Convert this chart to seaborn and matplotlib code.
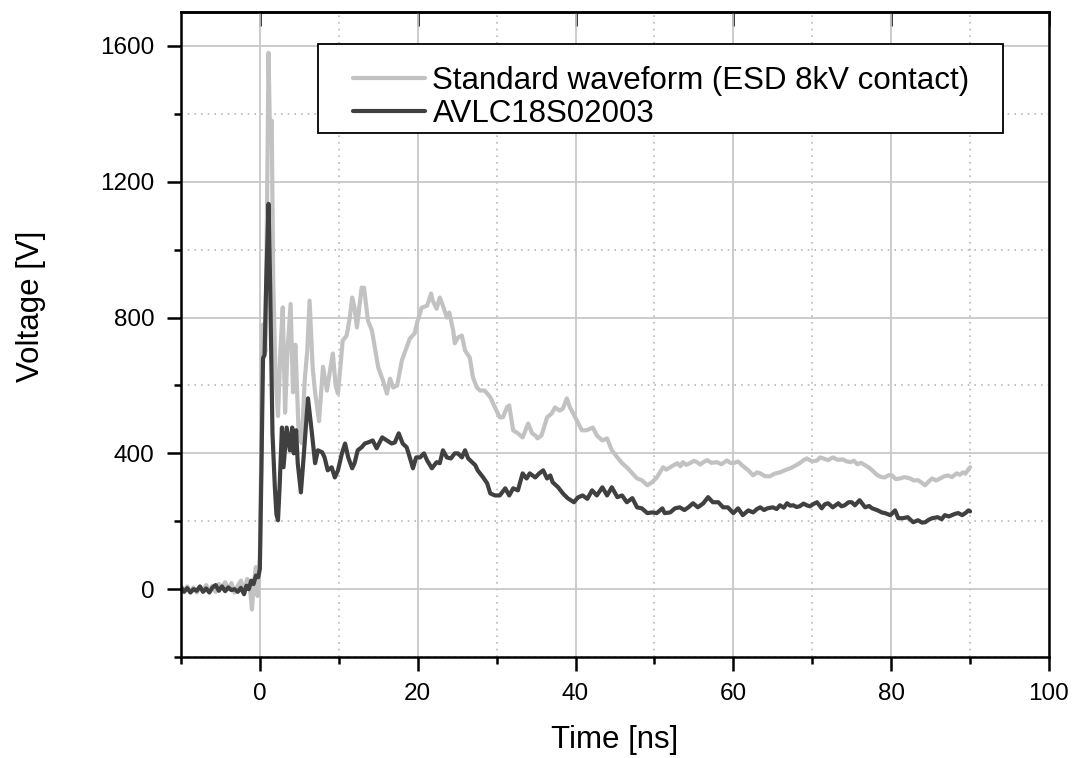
import pandas as pd
import seaborn as sns
import matplotlib.pyplot as plt
from matplotlib.ticker import MultipleLocator
from matplotlib.patches import Rectangle

# Standard waveform (ESD 8kV contact)
t_standard = [-10.0, -9.6, -9.2, -8.8, -8.4, -8.0, -7.6, -7.2, -6.8, -6.4, -6.0, -5.6, -5.2, -4.8,
              -4.4, -4.0, -3.6, -3.2, -2.8, -2.4, -2.0, -1.6, -1.3, -1.0, -0.8, -0.5, -0.3, 0.0,
              0.2, 0.4, 0.7, 0.9, 1.1, 1.3, 1.5, 1.7, 2.0, 2.3, 2.6, 2.9, 3.2, 3.5, 3.9, 4.2,
              4.5, 4.9, 5.3, 5.7, 6.0, 6.3, 6.7, 7.0, 7.5, 8.0, 8.5, 9.0, 9.25, 9.6, 9.9, 10.5,
              11.0, 11.4, 11.7, 12.0, 12.3, 12.9, 13.2, 13.7, 14.2, 15.0, 15.6, 16.1, 16.5, 16.9,
              17.4, 18.0, 18.6, 19.0, 19.6, 20.0, 20.5, 21.2, 21.7, 21.9, 22.4, 22.8, 23.2, 23.7,
              24.0, 24.5, 24.7, 25.1, 25.6, 26.0, 26.6, 27.0, 27.5, 27.9, 28.5, 29.2, 29.8, 30.4,
              30.8, 31.3, 31.6, 32.1, 32.7, 33.3, 34.0, 34.5, 34.9, 35.2, 35.7, 36.4, 37.0, 37.4,
              38.0, 38.4, 38.9, 39.3, 39.7, 40.3, 40.8, 41.4, 42.2, 42.7, 43.4, 44.0, 44.6, 45.3,
              45.9, 46.5, 47.2, 47.8, 48.4, 49.1, 49.7, 50.3, 50.7, 51.1, 51.5, 52.0, 52.5, 52.9,
              53.3, 53.6, 54.0, 54.5, 55.0, 55.4, 55.8, 56.2, 56.7, 57.2, 57.9, 58.5, 59.2, 59.6,
              60.0, 60.6, 61.1, 61.9, 62.5, 63.0, 63.4, 64.0, 64.6, 65.2, 65.9, 66.5, 67.2, 67.8,
              68.4, 68.9, 69.3, 70.0, 70.6, 71.0, 71.4, 72.0, 72.6, 73.2, 73.9, 74.3, 74.8, 75.3,
              75.7, 76.2, 76.7, 77.2, 77.6, 78.0, 78.3, 78.8, 79.2, 79.7, 80.1, 80.6, 81.1, 81.7,
              82.4, 82.9, 83.4, 83.9, 84.3, 84.8, 85.2, 85.7, 86.2, 86.7, 87.2, 87.7, 88.3, 88.7,
              89.1, 89.4, 89.7, 90.0]
v_standard = [10, -5, 8, -8, 5, -10, 6, -4, 12, -6, 10, -8, 15, 5,
              20, 0, 18, -10, 10, 25, -5, 30, 15, -60, 10, 65, -20, 90,
              450, 780, 700, 1100, 1580, 1320, 1380, 900, 620, 510, 700, 830, 520, 700, 840, 580,
              720, 470, 430, 620, 700, 850, 650, 580, 495, 655, 585, 660, 694, 600, 576, 732,
              747, 800, 859, 829, 771, 888, 888, 791, 762, 653, 615, 576, 620, 594,
              600, 674, 712, 738, 753, 791, 829, 835, 871, 850, 826, 859, 835, 800,
              815, 762, 724, 741, 747, 703, 682, 624, 594, 585, 585, 565, 535, 506,
              506, 535, 541, 468, 459, 447, 488, 459, 453, 444, 453, 506, 518, 535,
              526, 532, 562, 535, 518, 491, 468, 468, 476, 453, 438, 444, 409, 388,
              371, 359, 341, 326, 321, 306, 315, 329, 344, 359, 352, 359, 366, 371,
              362, 374, 366, 371, 378, 374, 367, 374, 380, 372, 374, 368, 379, 372,
              371, 376, 365, 350, 335, 344, 341, 333, 332, 340, 344, 350, 356, 363,
              371, 380, 385, 376, 379, 388, 385, 380, 388, 381, 382, 377, 374, 378,
              368, 372, 365, 358, 350, 341, 335, 330, 329, 336, 335, 324, 326, 330,
              326, 320, 321, 313, 306, 318, 326, 320, 326, 332, 335, 330, 341, 337,
              344, 340, 350, 359]

# AVLC18S02003
t_avlc = [-10.0, -9.6, -9.2, -8.8, -8.4, -8.0, -7.6, -7.2, -6.8, -6.4, -6.0, -5.6, -5.2, -4.8,
          -4.4, -4.0, -3.6, -3.2, -2.8, -2.4, -2.0, -1.7, -1.4, -1.1, -0.8, -0.5, -0.2, 0.0,
          0.2, 0.4, 0.6, 0.8, 1.1, 1.3, 1.6, 1.9, 2.1, 2.3, 2.5, 2.8, 3.0, 3.4, 3.8, 4.1,
          4.3, 4.6, 4.8, 5.2, 5.45, 6.1, 6.6, 7.0, 7.35, 7.9, 8.2, 8.6, 9.1, 9.5, 9.9, 10.4,
          10.8, 11.2, 11.7, 12.0, 12.4, 12.9, 13.3, 13.7, 14.3, 14.8, 15.5, 16.1, 16.7, 17.1,
          17.6, 18.1, 18.6, 19.0, 19.4, 19.8, 20.3, 20.8, 21.2, 21.8, 22.4, 22.8, 23.2, 23.7,
          24.2, 24.7, 25.1, 25.6, 26.0, 26.4, 26.9, 27.3, 27.6, 28.3, 28.8, 29.2, 29.8, 30.4,
          31.1, 31.6, 32.1, 32.7, 33.3, 33.8, 34.2, 34.9, 35.4, 35.9, 36.4, 36.8, 37.1, 37.8,
          38.4, 39.0, 39.8, 40.3, 40.9, 41.5, 42.1, 42.7, 43.4, 44.0, 44.6, 45.3, 45.9, 46.5,
          47.2, 47.8, 48.4, 49.1, 49.7, 50.3, 51.0, 51.3, 52.0, 52.6, 53.2, 53.8, 54.3, 54.9,
          55.5, 56.2, 56.8, 57.4, 58.1, 58.7, 59.3, 60.0, 60.6, 61.2, 61.9, 62.5, 63.0, 63.4,
          63.9, 64.3, 65.0, 65.5, 65.9, 66.4, 66.8, 67.2, 67.6, 68.0, 68.4, 68.9, 69.3, 69.7,
          70.1, 70.6, 71.2, 71.6, 72.0, 72.6, 73.3, 73.7, 74.1, 74.6, 75.0, 75.4, 76.0, 76.7,
          77.2, 77.6, 78.3, 78.8, 79.2, 79.9, 80.5, 80.9, 81.5, 82.1, 82.8, 83.4, 83.9, 84.3,
          84.8, 85.2, 85.9, 86.4, 86.8, 87.3, 87.7, 88.1, 88.5, 89.0, 89.4, 89.8, 90.0]
v_avlc = [5, -8, 3, -10, 0, -5, 8, -8, 2, -10, 5, 12, -5, 8,
          -6, 5, -3, 0, -8, 4, -15, 10, 0, 25, 15, 40, 35, 60,
          350, 680, 690, 900, 1135, 900, 460, 300, 220, 203, 300, 476, 359, 476, 409, 476,
          400, 468, 371, 285, 359, 562, 459, 371, 409, 403, 388, 350, 359, 329, 350, 400,
          429, 388, 356, 371, 409, 418, 429, 432, 438, 415, 447, 438, 429, 432,
          459, 429, 418, 388, 356, 388, 388, 400, 379, 356, 374, 371, 409, 388,
          385, 400, 400, 388, 409, 385, 374, 365, 350, 329, 312, 282, 276, 276,
          297, 276, 297, 291, 341, 326, 341, 329, 341, 350, 326, 335, 315, 300,
          282, 268, 256, 270, 276, 266, 291, 276, 300, 276, 300, 271, 276, 256,
          268, 241, 238, 224, 226, 224, 238, 224, 226, 238, 241, 233, 241, 253,
          241, 253, 271, 256, 256, 241, 241, 224, 238, 218, 232, 226, 236, 241,
          233, 238, 241, 236, 247, 240, 253, 246, 247, 242, 244, 252, 247, 244,
          250, 256, 238, 250, 253, 241, 253, 244, 247, 256, 256, 247, 262, 241,
          245, 238, 232, 226, 224, 218, 232, 209, 209, 212, 197, 203, 196, 197,
          205, 209, 212, 206, 218, 214, 218, 222, 224, 218, 224, 232, 229]

sns.set_style("white")
plt.rcParams['font.family'] = ['Liberation Sans', 'DejaVu Sans']

fig = plt.figure(figsize=(10.77, 7.58), dpi=100)
ax = fig.add_axes([0.168, 0.1332, 0.806, 0.8509])

df_std = pd.DataFrame({'Time': t_standard, 'Voltage': v_standard})
df_avlc = pd.DataFrame({'Time': t_avlc, 'Voltage': v_avlc})

sns.lineplot(data=df_std, x='Time', y='Voltage', color='#c2c2c2', linewidth=3.0,
             estimator=None, sort=False, label='Standard waveform (ESD 8kV contact)', ax=ax)
sns.lineplot(data=df_avlc, x='Time', y='Voltage', color='#404040', linewidth=3.0,
             estimator=None, sort=False, label='AVLC18S02003', ax=ax)

ax.set_xlim(-10, 100)
ax.set_ylim(-200, 1700)
ax.xaxis.set_major_locator(MultipleLocator(20))
ax.xaxis.set_minor_locator(MultipleLocator(10))
ax.yaxis.set_major_locator(MultipleLocator(400))
ax.yaxis.set_minor_locator(MultipleLocator(200))

# grid: solid major, dotted minor
ax.set_axisbelow(True)
ax.grid(which='major', color='#c8c8c8', lw=1.3, ls='-')
ax.grid(which='minor', color='#b8b8b8', lw=1.2, ls=(0, (1, 3)))

for s in ax.spines.values():
    s.set_linewidth(1.8)
    s.set_color('black')

ax.tick_params(which='major', direction='out', length=10, width=1.8, labelsize=17.5,
               pad=9, color='black', labelcolor='black', bottom=True, left=True)
ax.tick_params(which='minor', direction='out', length=5, width=1.8,
               color='black', bottom=True, left=True)

top = ax.secondary_xaxis('top')
top.set_xticks([0, 20, 40, 60, 80, 100])
top.tick_params(direction='in', length=10, width=1.8, color='black', labeltop=False)
top.spines['top'].set_linewidth(1.8)
top.spines['top'].set_color('black')

ax.set_xlabel('Time [ns]', fontsize=22.5, color='black')
ax.set_ylabel('Voltage [V]', fontsize=22.5, color='black')
ax.xaxis.set_label_coords(0.5, -0.105)
ax.yaxis.set_label_coords(-0.155, 0.544)

# legend frame drawn as a plain box, entries placed inside it
ax.add_patch(Rectangle((0.158, 0.812), 0.789, 0.138, transform=ax.transAxes,
                       facecolor='white', edgecolor='black', lw=1.3, zorder=4))
leg = ax.legend(loc='upper left', bbox_to_anchor=(0.198, 0.916), fontsize=22.5,
                frameon=False, borderpad=0, handlelength=2.3, handletextpad=0.25,
                labelspacing=0.1, borderaxespad=0)
leg.set_zorder(5)
for txt in leg.get_texts():
    txt.set_color('black')

plt.savefig('out.png', dpi=100, facecolor='w')
